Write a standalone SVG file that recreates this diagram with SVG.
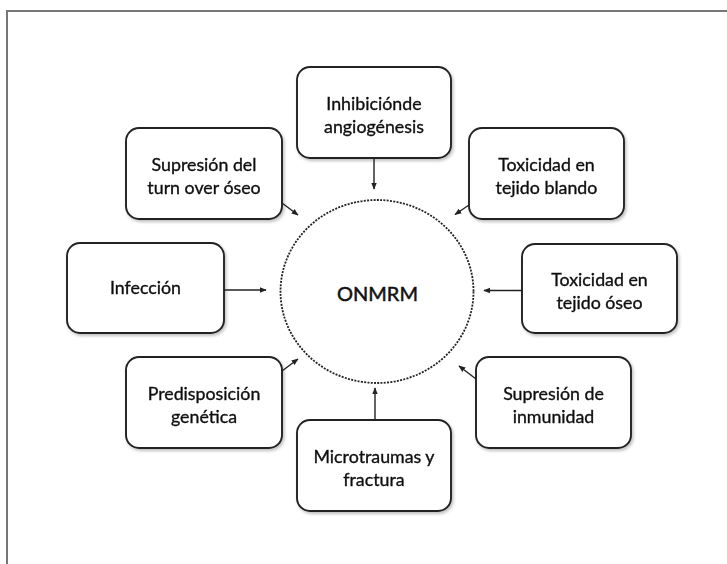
<svg xmlns="http://www.w3.org/2000/svg" width="727" height="564" viewBox="0 0 727 564">
<style>
.box{fill:#fff;stroke:#222;stroke-width:1.9}
.t{font-family:Lato,"Open Sans",sans-serif;font-size:17.8px;fill:#111;stroke:#111;stroke-width:0.35;text-anchor:middle}
.c{fill:none;stroke:#222;stroke-width:1.4;marker-end:url(#ah)}
</style>
<defs>
<marker id="ah" viewBox="0 0 10 10" refX="9" refY="5" markerWidth="7" markerHeight="7" markerUnits="userSpaceOnUse" orient="auto">
<path d="M0,1 L10,5 L0,9 Z" fill="#222"/>
</marker>
<filter id="sh" x="-10%" y="-10%" width="130%" height="130%">
<feDropShadow dx="1.5" dy="2" stdDeviation="1.5" flood-color="#000" flood-opacity="0.25"/>
</filter>
</defs>
<rect width="727" height="564" fill="#fff"/>
<path d="M7,564 V11 H727" fill="none" stroke="#777" stroke-width="2"/>
<g id="center">
<ellipse cx="377" cy="291.5" rx="96.5" ry="91.5" fill="none" stroke="#222" stroke-width="1.8" stroke-dasharray="2 1.3"/>
<text x="377.5" y="301" class="t" style="font-size:20px;stroke-width:0.5">ONMRM</text>
</g>
<g id="n1" filter="url(#sh)"><rect class="box" x="297" y="67" width="154" height="91" rx="13"/>
<text class="t" x="374" y="110">Inhibiciónde</text><text class="t" x="374" y="133">angiogénesis</text></g>
<g id="n2" filter="url(#sh)"><rect class="box" x="126" y="128" width="156" height="91" rx="13"/>
<text class="t" x="204" y="171">Supresión del</text><text class="t" x="204" y="194">turn over óseo</text></g>
<g id="n3" filter="url(#sh)"><rect class="box" x="469" y="128" width="155" height="91" rx="13"/>
<text class="t" x="546.5" y="171">Toxicidad en</text><text class="t" x="546.5" y="194">tejido blando</text></g>
<g id="n4" filter="url(#sh)"><rect class="box" x="67" y="243" width="157" height="90" rx="13"/>
<text class="t" x="145.5" y="294">Infección</text></g>
<g id="n5" filter="url(#sh)"><rect class="box" x="522" y="244" width="155" height="89" rx="13"/>
<text class="t" x="599.5" y="286">Toxicidad en</text><text class="t" x="599.5" y="309">tejido óseo</text></g>
<g id="n6" filter="url(#sh)"><rect class="box" x="126" y="357" width="156" height="91" rx="13"/>
<text class="t" x="204" y="400">Predisposición</text><text class="t" x="204" y="423">genética</text></g>
<g id="n7" filter="url(#sh)"><rect class="box" x="476" y="357" width="155" height="91" rx="13"/>
<text class="t" x="553.5" y="400">Supresión de</text><text class="t" x="553.5" y="423">inmunidad</text></g>
<g id="n8" filter="url(#sh)"><rect class="box" x="297" y="420" width="154" height="91" rx="13"/>
<text class="t" x="374" y="463">Microtraumas y</text><text class="t" x="374" y="486">fractura</text></g>
<g id="connectors">
<line class="c" x1="374" y1="158" x2="374" y2="189"/>
<line class="c" x1="282" y1="203" x2="298" y2="215"/>
<line class="c" x1="469" y1="205" x2="455" y2="214.5"/>
<line class="c" x1="224" y1="290" x2="266" y2="290"/>
<line class="c" x1="522" y1="290.5" x2="484" y2="290.5"/>
<line class="c" x1="282" y1="371" x2="298" y2="359"/>
<line class="c" x1="476" y1="379" x2="459" y2="366"/>
<line class="c" x1="375" y1="420" x2="375" y2="388"/>
</g>
</svg>
